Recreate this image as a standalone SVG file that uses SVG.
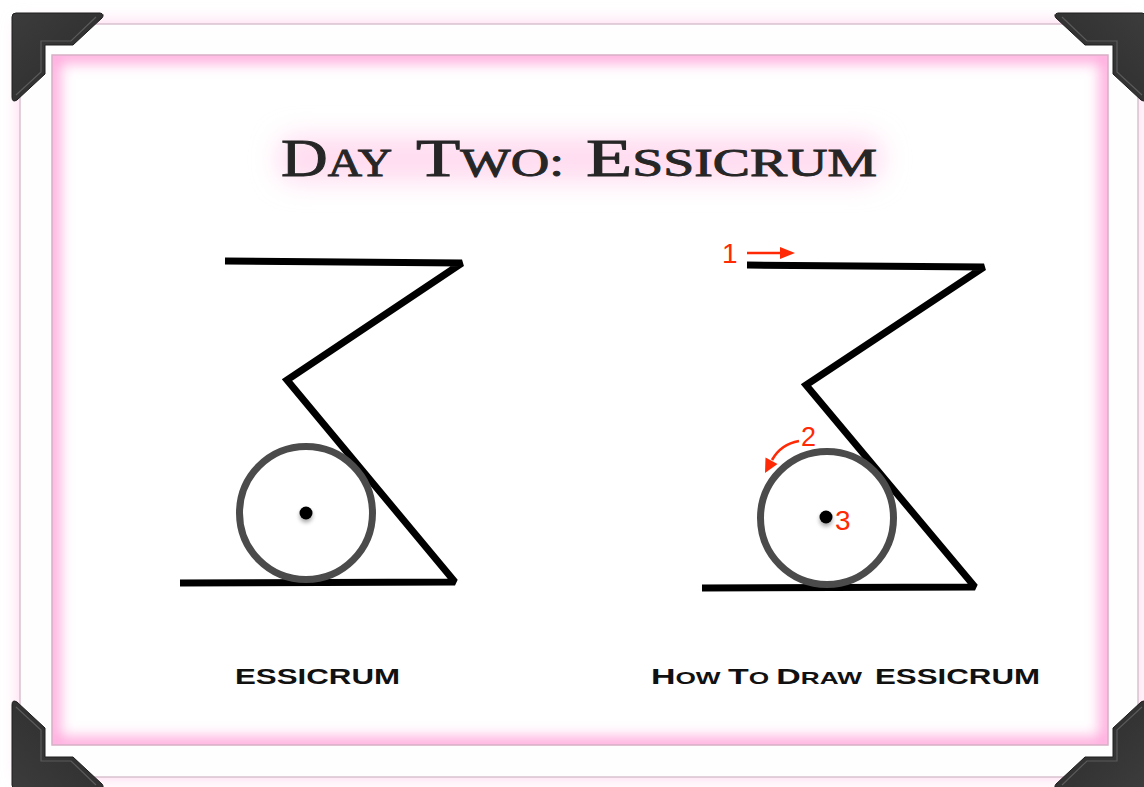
<svg xmlns="http://www.w3.org/2000/svg" width="1144" height="787" viewBox="0 0 1144 787">
<defs>
<style>
.stroke{fill:none;stroke:#000;stroke-width:7;stroke-linejoin:miter;stroke-miterlimit:2}
.ring{fill:none;stroke:#4b4b4b;stroke-width:7}
.dot{fill:#000}
.title{font-family:"Liberation Serif",serif;fill:#262626;stroke:#262626;stroke-width:0.9}
.lbl{font-family:"Liberation Sans",sans-serif;font-weight:bold;fill:#111}
.red{font-family:"Liberation Sans",sans-serif;fill:#ff2a05}
.arrow{fill:none;stroke:#ff2a05;stroke-width:2.6}
.corner{fill:url(#cg);stroke:#1e1e1e;stroke-width:1}
.bevel{fill:none;stroke:#5a5a5a;stroke-width:1.2}
</style>
<linearGradient id="cg" x1="0" y1="0" x2="1" y2="1">
<stop offset="0" stop-color="#3c3c3c"/>
<stop offset="1" stop-color="#2a2a2a"/>
</linearGradient>
<filter id="blur10" x="-10%" y="-10%" width="120%" height="120%"><feGaussianBlur stdDeviation="9"/></filter>
<filter id="blur7"><feGaussianBlur stdDeviation="7"/></filter>
<filter id="glow" x="-10%" y="-80%" width="120%" height="260%"><feGaussianBlur stdDeviation="13"/></filter>
<filter id="dsh" x="-100%" y="-100%" width="300%" height="300%"><feGaussianBlur in="SourceAlpha" stdDeviation="2"/><feOffset dy="3"/><feComponentTransfer><feFuncA type="linear" slope="0.35"/></feComponentTransfer><feMerge><feMergeNode/><feMergeNode in="SourceGraphic"/></feMerge></filter>
<clipPath id="inner"><rect x="52" y="55" width="1056" height="690"/></clipPath>
<g id="cornerShape">
<path class="corner" d="M12,17 Q12,13 16,13 L100,13 Q105,14 102,18 L73,45 L45,45 L45,74 L17,100 Q12,103 12,97 Z"/>
<path class="bevel" d="M96,17 L71,41 L41,41 L41,72 L16,95"/>
</g>
</defs>
<rect width="1144" height="787" fill="#fff"/>
<g id="frame">
<rect x="20" y="24" width="1118" height="753" fill="#ffcfeb" filter="url(#blur10)"/>
<rect x="20" y="24" width="1118" height="753" fill="#fefefe" stroke="#d9c1cf" stroke-width="1.5"/>
<rect x="52" y="55" width="1056" height="690" fill="#fff"/>
<g clip-path="url(#inner)">
<rect x="52" y="55" width="1056" height="690" fill="none" stroke="#ffa8dc" stroke-width="16" filter="url(#blur7)"/>
</g>
<rect x="52" y="55" width="1056" height="690" fill="none" stroke="#d6afc5" stroke-width="1.5"/>
</g>
<g id="corners">
<use href="#cornerShape"/>
<use href="#cornerShape" transform="translate(1158,0) scale(-1,1)"/>
<use href="#cornerShape" transform="translate(0,802) scale(1,-1)"/>
<use href="#cornerShape" transform="translate(1158,802) scale(-1,-1)"/>
</g>
<g id="title">
<rect x="278" y="136" width="604" height="46" rx="18" fill="#ffdcf0" filter="url(#glow)"/>
<text class="title" x="281" y="176" textLength="111" lengthAdjust="spacingAndGlyphs"><tspan font-size="53">D</tspan><tspan font-size="39">AY</tspan></text>
<text class="title" x="416" y="176" textLength="148" lengthAdjust="spacingAndGlyphs"><tspan font-size="53">T</tspan><tspan font-size="39">WO:</tspan></text>
<text class="title" x="586" y="176" textLength="291" lengthAdjust="spacingAndGlyphs"><tspan font-size="53">E</tspan><tspan font-size="39">SSICRUM</tspan></text>
</g>
<g id="figure-left">
<polyline class="stroke" points="225,261 462,263 287,380 455,582 180,583"/>
<circle class="ring" cx="306" cy="513" r="66.5"/>
<circle class="dot" cx="306" cy="513" r="6.5" filter="url(#dsh)"/>
</g>
<g id="figure-right">
<polyline class="stroke" points="747,265 984,267 806,385 975,587 702,588"/>
<circle class="ring" cx="827" cy="518" r="66.5"/>
<circle class="dot" cx="826" cy="517" r="6.5" filter="url(#dsh)"/>
</g>
<g id="connectors">
<line class="arrow" x1="747" y1="253" x2="782" y2="253"/>
<polygon points="780,247 795,253 780,259" fill="#ff2a05"/>
<path class="arrow" d="M799,441 Q781,444 772,460"/>
<polygon points="765,473 765.5,457.5 777.5,464" fill="#ff2a05"/>
</g>
<g id="annotations">
<text class="red" x="722" y="263" font-size="28">1</text>
<text class="red" x="801" y="446" font-size="27">2</text>
<text class="red" x="835" y="530" font-size="28">3</text>
</g>
<g id="labels">
<text class="lbl" x="235" y="684" font-size="22" textLength="165" lengthAdjust="spacingAndGlyphs">ESSICRUM</text>
<text class="lbl" x="651" y="684" textLength="211" lengthAdjust="spacingAndGlyphs"><tspan font-size="22">H</tspan><tspan font-size="17">OW </tspan><tspan font-size="22">T</tspan><tspan font-size="17">O </tspan><tspan font-size="22">D</tspan><tspan font-size="17">RAW</tspan></text>
<text class="lbl" x="875" y="684" font-size="22" textLength="165" lengthAdjust="spacingAndGlyphs">ESSICRUM</text>
</g>
</svg>
